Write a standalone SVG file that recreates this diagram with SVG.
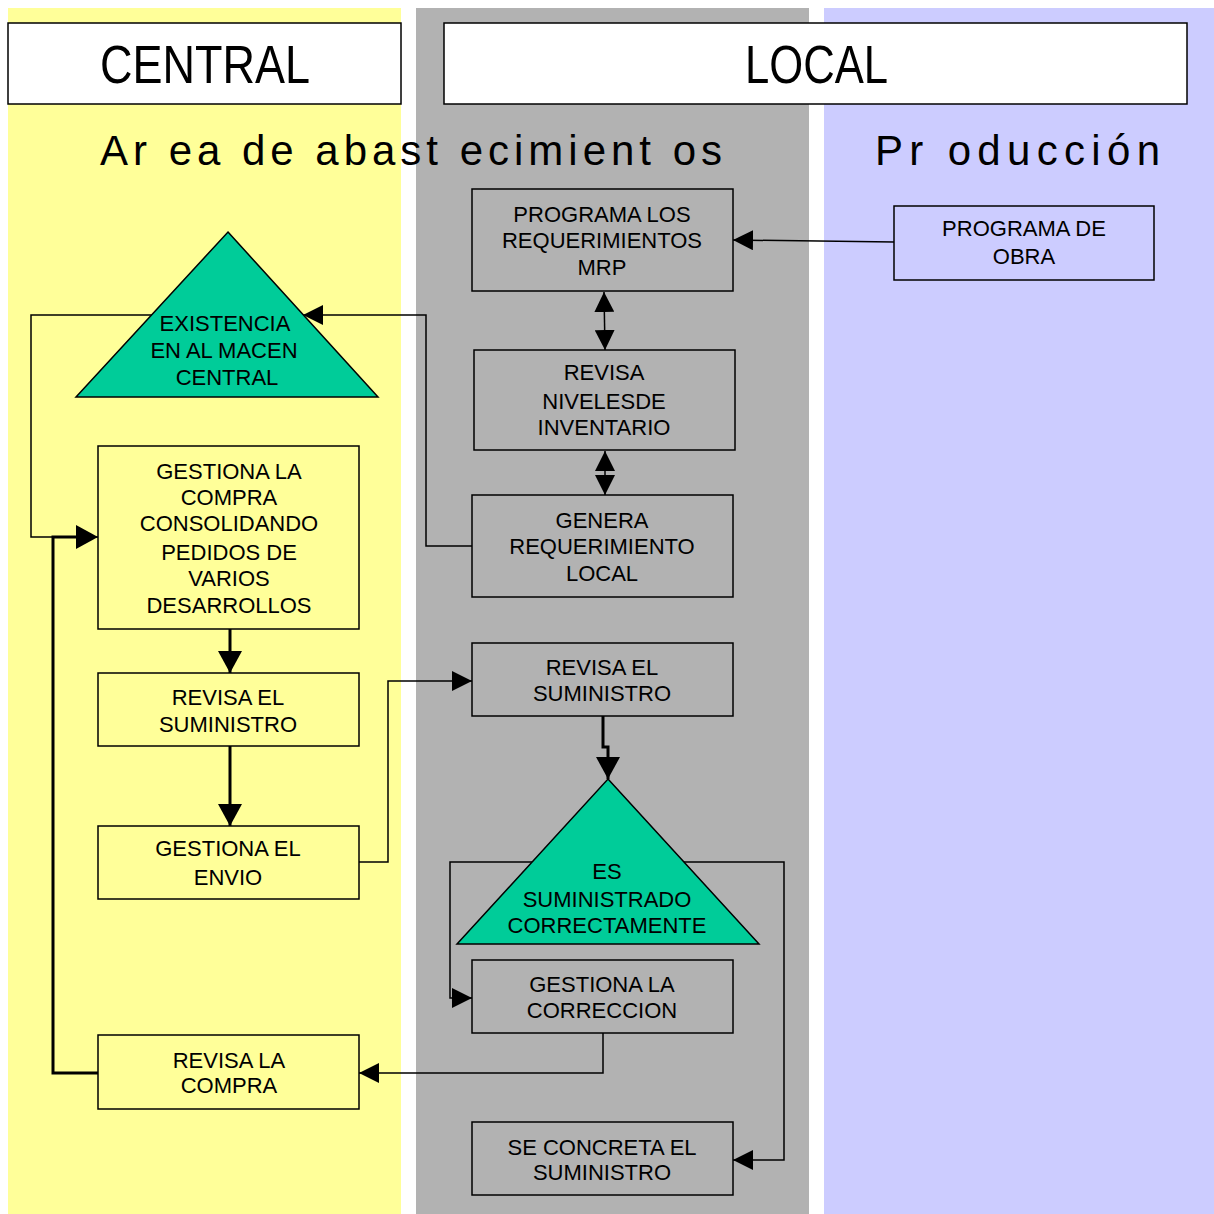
<svg xmlns="http://www.w3.org/2000/svg" width="1214" height="1214" viewBox="0 0 1214 1214">
<style>
  text { font-family: "Liberation Sans", Arial, sans-serif; fill: #000; }
  .lbl { font-size: 22px; text-anchor: middle; }
  .box { stroke: #000; stroke-width: 1.5; }
  .yel { fill: #FFFF99; }
  .gry { fill: #B2B2B2; }
  .blu { fill: #CCCCFF; }
  .grn { fill: #00CC99; stroke: #000; stroke-width: 1.5; }
  .hdr { fill: #fff; stroke: #000; stroke-width: 1.5; }
  .c { fill: none; stroke: #000; stroke-width: 1.5; }
  .ct { fill: none; stroke: #000; stroke-width: 3; }
</style>
<defs>
  <marker id="arrow" viewBox="0 0 20 20" markerWidth="20" markerHeight="20" refX="20" refY="10" orient="auto-start-reverse" markerUnits="userSpaceOnUse">
    <path d="M0,0 L20,10 L0,20 z" fill="#000"/>
  </marker>
  <marker id="arrowL" viewBox="0 0 22 24" markerWidth="22" markerHeight="24" refX="22" refY="12" orient="auto-start-reverse" markerUnits="userSpaceOnUse">
    <path d="M0,0 L22,12 L0,24 z" fill="#000"/>
  </marker>
</defs>

<g id="lanes">
  <rect x="0" y="0" width="1214" height="1214" fill="#fff"/>
  <rect x="8" y="8" width="393" height="1206" fill="#FFFF99"/>
  <rect x="416" y="8" width="393" height="1206" fill="#B2B2B2"/>
  <rect x="824" y="8" width="390" height="1206" fill="#CCCCFF"/>
</g>

<g id="headers">
  <rect class="hdr" x="8" y="23" width="393" height="81"/>
  <text x="100" y="83" font-size="54" textLength="210" lengthAdjust="spacingAndGlyphs">CENTRAL</text>
  <rect class="hdr" x="444" y="23" width="743" height="81"/>
  <text x="745" y="83" font-size="54" textLength="143" lengthAdjust="spacingAndGlyphs">LOCAL</text>
  <text x="100" y="165" font-size="42" textLength="622" lengthAdjust="spacing">Ar ea de abast ecimient os</text>
  <text x="875" y="165" font-size="42" textLength="285" lengthAdjust="spacing">Pr oducción</text>
</g>

<g id="connectors">
  <path class="c" d="M894,242 L733,240" marker-end="url(#arrow)"/>
  <path class="c" d="M604,292 L605,350" marker-start="url(#arrow)" marker-end="url(#arrow)"/>
  <path class="c" d="M605,451 L605,495" marker-start="url(#arrow)" marker-end="url(#arrow)"/>
  <path class="c" d="M472,546 H426 V315 H303" marker-end="url(#arrow)"/>
  <path class="c" d="M152,315 H31 V537 H98" marker-end="url(#arrowL)"/>
  <path class="ct" d="M98,1073 H53 V537 H78"/>
  <path class="ct" d="M230,629 V673" marker-end="url(#arrowL)"/>
  <path class="ct" d="M230,746 V826" marker-end="url(#arrowL)"/>
  <path class="c" d="M359,862 H388 V681 H472" marker-end="url(#arrow)"/>
  <path class="ct" d="M603,716 V747 H608 V779" marker-end="url(#arrowL)"/>
  <path class="c" d="M533,862 H450 V998 H472" marker-end="url(#arrow)"/>
  <path class="c" d="M684,862 H784 V1160 H733" marker-end="url(#arrow)"/>
  <path class="c" d="M603,1033 V1073 H359" marker-end="url(#arrow)"/>
</g>

<g id="n-existencia">
  <polygon class="grn" points="228,232 378,397 76,397"/>
  <text class="lbl" x="225" y="331">EXISTENCIA</text>
  <text class="lbl" x="224" y="358">EN AL MACEN</text>
  <text class="lbl" x="227" y="385">CENTRAL</text>
</g>

<g id="n-gestiona-compra">
  <rect class="box yel" x="98" y="446" width="261" height="183"/>
  <text class="lbl" x="229" y="479">GESTIONA LA</text>
  <text class="lbl" x="229" y="505">COMPRA</text>
  <text class="lbl" x="229" y="531">CONSOLIDANDO</text>
  <text class="lbl" x="229" y="560">PEDIDOS DE</text>
  <text class="lbl" x="229" y="586">VARIOS</text>
  <text class="lbl" x="229" y="613">DESARROLLOS</text>
</g>

<g id="n-revisa-suministro-central">
  <rect class="box yel" x="98" y="673" width="261" height="73"/>
  <text class="lbl" x="228" y="705">REVISA EL</text>
  <text class="lbl" x="228" y="732">SUMINISTRO</text>
</g>

<g id="n-gestiona-envio">
  <rect class="box yel" x="98" y="826" width="261" height="73"/>
  <text class="lbl" x="228" y="856">GESTIONA EL</text>
  <text class="lbl" x="228" y="885">ENVIO</text>
</g>

<g id="n-revisa-compra">
  <rect class="box yel" x="98" y="1035" width="261" height="74"/>
  <text class="lbl" x="229" y="1068">REVISA LA</text>
  <text class="lbl" x="229" y="1093">COMPRA</text>
</g>

<g id="n-programa-mrp">
  <rect class="box gry" x="472" y="189" width="261" height="102"/>
  <text class="lbl" x="602" y="222">PROGRAMA LOS</text>
  <text class="lbl" x="602" y="248">REQUERIMIENTOS</text>
  <text class="lbl" x="602" y="275">MRP</text>
</g>

<g id="n-revisa-niveles">
  <rect class="box gry" x="474" y="350" width="261" height="100"/>
  <text class="lbl" x="604" y="380">REVISA</text>
  <text class="lbl" x="604" y="409">NIVELESDE</text>
  <text class="lbl" x="604" y="435">INVENTARIO</text>
</g>

<g id="n-genera">
  <rect class="box gry" x="472" y="495" width="261" height="102"/>
  <text class="lbl" x="602" y="528">GENERA</text>
  <text class="lbl" x="602" y="554">REQUERIMIENTO</text>
  <text class="lbl" x="602" y="581">LOCAL</text>
</g>

<g id="n-revisa-suministro-local">
  <rect class="box gry" x="472" y="643" width="261" height="73"/>
  <text class="lbl" x="602" y="675">REVISA EL</text>
  <text class="lbl" x="602" y="701">SUMINISTRO</text>
</g>

<g id="n-es-suministrado">
  <polygon class="grn" points="608,779 759,944 457,944"/>
  <text class="lbl" x="607" y="879">ES</text>
  <text class="lbl" x="607" y="907">SUMINISTRADO</text>
  <text class="lbl" x="607" y="933">CORRECTAMENTE</text>
</g>

<g id="n-gestiona-correccion">
  <rect class="box gry" x="472" y="960" width="261" height="73"/>
  <text class="lbl" x="602" y="992">GESTIONA LA</text>
  <text class="lbl" x="602" y="1018">CORRECCION</text>
</g>

<g id="n-se-concreta">
  <rect class="box gry" x="472" y="1122" width="261" height="73"/>
  <text class="lbl" x="602" y="1155">SE CONCRETA EL</text>
  <text class="lbl" x="602" y="1180">SUMINISTRO</text>
</g>

<g id="n-programa-obra">
  <rect class="box blu" x="894" y="206" width="260" height="74"/>
  <text class="lbl" x="1024" y="236">PROGRAMA DE</text>
  <text class="lbl" x="1024" y="264">OBRA</text>
</g>
</svg>
